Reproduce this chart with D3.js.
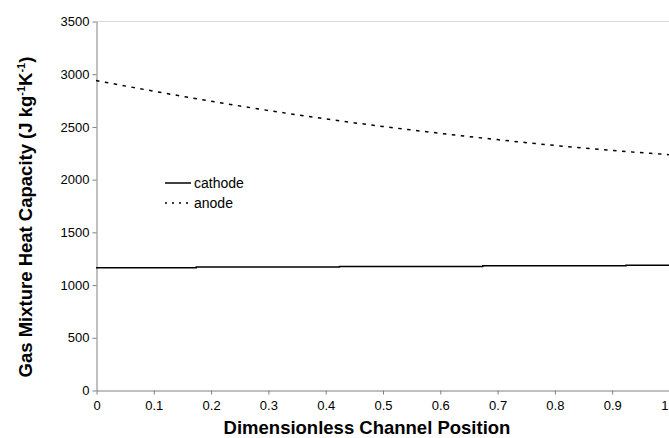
<!DOCTYPE html>
<html>
<head>
<meta charset="utf-8">
<script src="https://cdn.jsdelivr.net/npm/d3@7"></script>
<style>
  body { margin: 0; background: white; }
  text { font-family: "Liberation Sans", Arial, sans-serif; }
</style>
</head>
<body>
<script>
// data
const cathodeX = [0, 0.175, 0.175, 0.425, 0.425, 0.675, 0.675, 0.925, 0.925, 1];
const cathodeY = [1160, 1160, 1166, 1166, 1172, 1172, 1178, 1178, 1184, 1184];
const anodeX = [0, 0.1, 0.2, 0.3, 0.4, 0.5, 0.6, 0.7, 0.8, 0.9, 1];
const anodeY = [2935, 2835, 2740, 2652, 2572, 2500, 2435, 2375, 2320, 2273, 2232];
const xTicks = [0, 0.1, 0.2, 0.3, 0.4, 0.5, 0.6, 0.7, 0.8, 0.9, 1];
const yTicks = [0, 500, 1000, 1500, 2000, 2500, 3000, 3500];

const width = 669, height = 438;
const plotLeft = 96, plotRight = 669, plotTop = 21, plotBottom = 390;

const svg = d3.select("body").append("svg")
    .attr("width", width)
    .attr("height", height);

const x = d3.scaleLinear().domain([0, 1]).range([plotLeft, plotRight]);
const y = d3.scaleLinear().domain([0, 3500]).range([plotBottom, plotTop]);

// light top frame
svg.append("line")
    .attr("x1", plotLeft).attr("x2", plotRight)
    .attr("y1", y(3500) + 0.5).attr("y2", y(3500) + 0.5)
    .attr("stroke", "#d9d9d9").attr("stroke-width", 1);

const yAxis = svg.append("g")
    .attr("transform", `translate(${plotLeft + 0.5},0.5)`)
    .call(d3.axisLeft(y).tickValues(yTicks).tickSize(4).tickSizeOuter(0).tickPadding(3).tickFormat(d3.format("d")));

const xAxis = svg.append("g")
    .attr("transform", `translate(0.5,${plotBottom + 0.5})`)
    .call(d3.axisBottom(x).tickValues(xTicks).tickSize(4).tickSizeOuter(0).tickPadding(6)
        .tickFormat(d => d === 0 || d === 1 ? d3.format("d")(d) : d3.format(".1f")(d)));

[xAxis, yAxis].forEach(a => {
    a.select(".domain").attr("stroke", "#808080");
    a.selectAll(".tick line").attr("stroke", "#808080");
    a.selectAll(".tick text").attr("fill", "#000").style("font-size", "13px")
        .style("font-family", "'Liberation Sans', Arial, sans-serif");
});
// keep the last label inside the window
xAxis.selectAll(".tick").filter(d => d === 1).select("text").attr("text-anchor", "end").attr("dx", "-1.5");

const line = d3.line().x(d => x(d[0])).y(d => y(d[1]));

svg.append("path")
    .datum(d3.zip(cathodeX, cathodeY))
    .attr("fill", "none")
    .attr("stroke", "#000")
    .attr("stroke-width", 1.5)
    .attr("d", line);

svg.append("path")
    .datum(d3.zip(anodeX, anodeY))
    .attr("fill", "none")
    .attr("stroke", "#000")
    .attr("stroke-width", 1.5)
    .attr("stroke-dasharray", "3.5,5.5")
    .attr("d", line.curve(d3.curveMonotoneX));

// legend
const legend = svg.append("g");
legend.append("line")
    .attr("x1", 165).attr("x2", 191).attr("y1", 183).attr("y2", 183)
    .attr("stroke", "#000").attr("stroke-width", 1.5);
legend.append("text").attr("x", 194).attr("y", 188)
    .style("font-size", "14px").text("cathode");
legend.append("line")
    .attr("x1", 165).attr("x2", 191).attr("y1", 203).attr("y2", 203)
    .attr("stroke", "#000").attr("stroke-width", 1.5)
    .attr("stroke-dasharray", "2,5");
legend.append("text").attr("x", 194).attr("y", 208)
    .style("font-size", "14px").text("anode");

// axis titles
svg.append("text")
    .attr("x", 367).attr("y", 434)
    .attr("text-anchor", "middle")
    .style("font-size", "18.5px").style("font-weight", "bold")
    .text("Dimensionless Channel Position");

const yt = svg.append("text")
    .attr("transform", "translate(32,217) rotate(-90)")
    .attr("text-anchor", "middle")
    .style("font-size", "18.5px").style("font-weight", "bold");
yt.append("tspan").text("Gas Mixture Heat Capacity (J kg");
yt.append("tspan").attr("dy", "-7").style("font-size", "11px").text("-1");
yt.append("tspan").attr("dy", "7").text("K");
yt.append("tspan").attr("dy", "-7").style("font-size", "11px").text("-1");
yt.append("tspan").attr("dy", "7").text(")");
</script>
</body>
</html>
